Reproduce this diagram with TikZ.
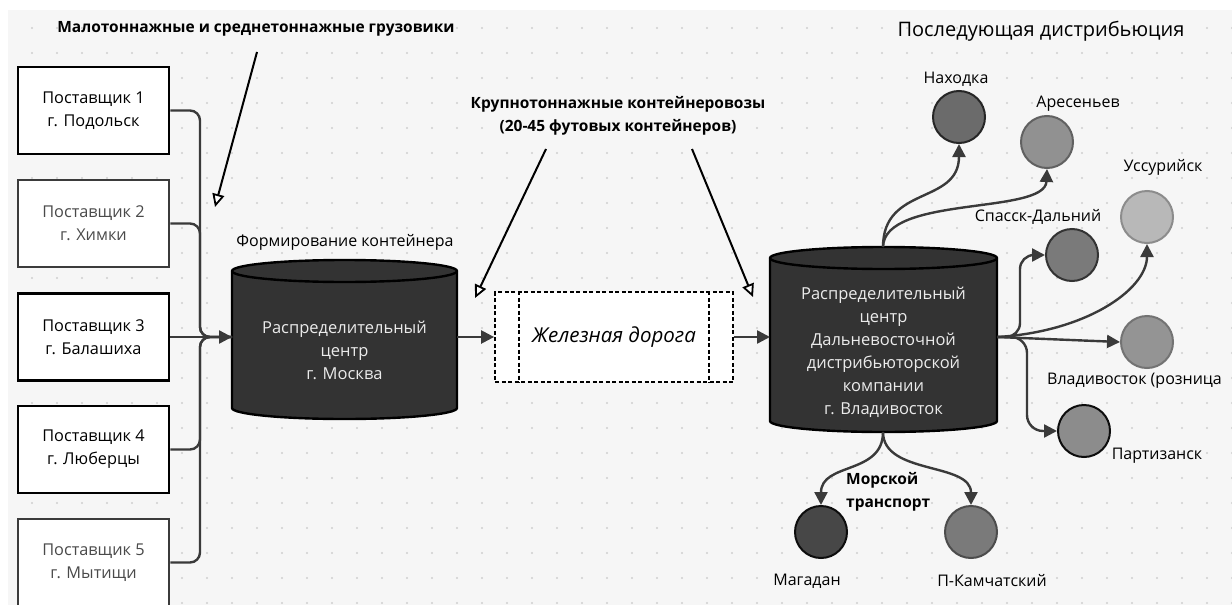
\documentclass[tikz,border=0pt]{standalone}
\usepackage{fontspec}
\setmainfont{Open Sans}
\usetikzlibrary{arrows.meta,calc}
\definecolor{bgc}{HTML}{F6F6F6}
\definecolor{dotc}{HTML}{CFCFCF}
\definecolor{lc}{HTML}{3A3A3A}
\definecolor{cylc}{HTML}{333333}
\definecolor{graytext}{HTML}{4A4A4A}
\begin{document}
\begin{tikzpicture}[x=1pt,y=-1pt,
  conn/.style={draw=lc, line width=2.4pt, -{Triangle[length=13pt,width=13pt]}},
  plainline/.style={draw=lc, line width=2.4pt},
  callout/.style={draw=black, line width=2pt, -{Triangle[length=13pt,width=12pt,fill=white,line width=1.8pt]}},
  supbox/.style={draw=black, line width=2.6pt, fill=white, minimum width=151pt, minimum height=87pt, align=center, font=\fontsize{16.3}{23}\selectfont},
  supboxg/.style={supbox, draw=graytext!80!black, text=graytext},
  cyltext/.style={align=center, text=white!92!black, font=\fontsize{16.5}{23}\selectfont},
  city/.style={circle, minimum size=52pt, inner sep=0pt, line width=2pt},
  lbl/.style={font=\fontsize{16}{20}\selectfont, inner sep=0pt},
  cylshape/.style={fill=cylc, draw=black, line width=2.4pt}
]
\useasboundingbox (0,0) rectangle (1232,605);
\fill[white] (0,0) rectangle (1232,605);
\fill[bgc] (8,10) rectangle (1232,605);
\foreach \x in {32,57,...,1232} {\foreach \y in {28,53,...,605} {\fill[dotc] (\x,\y) circle (1.2pt);}}

% titles
\node[font=\bfseries\fontsize{15.5}{20}\selectfont, inner sep=0pt] (t1) at (256,29) {Малотоннажные и среднетоннажные грузовики};
\node[font=\fontsize{20}{24}\selectfont, inner sep=0pt] (t2) at (1041,31) {Последующая дистрибьюция};
\node[font=\bfseries\fontsize{15.5}{23}\selectfont, align=center, inner sep=0pt] (t3) at (618,116) {Крупнотоннажные контейнеровозы\\(20-45 футовых контейнеров)};
\node[lbl] (t4) at (345,242) {Формирование контейнера};

% suppliers
\node[supbox] (s1) at (93.5,110.5) {Поставщик 1\\г. Подольск};
\node[supboxg] (s2) at (93.5,223.5) {Поставщик 2\\г. Химки};
\node[supbox] (s3) at (93.5,337) {Поставщик 3\\г. Балашиха};
\node[supbox] (s4) at (93.5,449.5) {Поставщик 4\\г. Люберцы};
\node[supboxg] (s5) at (93.5,562.5) {Поставщик 5\\г. Мытищи};

% Moscow cylinder
\path[cylshape] (232,271) -- (232,408) arc[start angle=180,end angle=360,x radius=112.5pt,y radius=11pt] -- (457,271) arc[start angle=0,end angle=180,x radius=112.5pt,y radius=11pt] -- cycle;
\draw[black, line width=2.4pt] (232,271) arc[start angle=180,end angle=360,x radius=112.5pt,y radius=11pt];
\node[cyltext, minimum width=225pt] (m) at (344.5,350) {Распределительный\\центр\\г. Москва};

% Vladivostok cylinder
\path[cylshape] (770,258) -- (770,421) arc[start angle=180,end angle=360,x radius=113.5pt,y radius=11pt] -- (997,258) arc[start angle=0,end angle=180,x radius=113.5pt,y radius=11pt] -- cycle;
\draw[black, line width=2.4pt] (770,258) arc[start angle=180,end angle=360,x radius=113.5pt,y radius=11pt];
\node[cyltext, minimum width=227pt] (v) at (883.5,352) {Распределительный\\центр\\Дальневосточной\\дистрибьюторской\\компании\\г. Владивосток};

% rail
\node[draw=black, dash pattern=on 4pt off 2.5pt, line width=1.8pt, fill=white, minimum width=238pt, minimum height=90pt, font=\itshape\fontsize{20.5}{24}\selectfont] (rail) at (614,337) {Железная дорога};
\draw[black, dash pattern=on 4pt off 2.5pt, line width=1.8pt] ($(rail.north west)+(25,0)$) -- ($(rail.south west)+(25,0)$);
\draw[black, dash pattern=on 4pt off 2.5pt, line width=1.8pt] ($(rail.north east)+(-25,0)$) -- ($(rail.south east)+(-25,0)$);

% junction coordinates
\coordinate (j) at (200,337);
\coordinate (mw) at (232,337);
\coordinate (me) at (457,337);
\coordinate (vw) at (770,337);
\coordinate (vr) at (997,337);
\coordinate (vt) at (883,247);
\coordinate (vb) at (883,432);

% supplier connectors
\draw[plainline, rounded corners=10pt] (s1.east) -| (j) -- (mw);
\draw[plainline, rounded corners=10pt] (s2.east) -| (j) -- (mw);
\draw[plainline, rounded corners=10pt] (s4.east) -| (j) -- (mw);
\draw[plainline, rounded corners=10pt] (s5.east) -| (j) -- (mw);
\draw[conn] (s3.east) -- (mw);

\draw[conn] (me) -- (rail.west);
\draw[conn] (rail.east) -- (vw);

% cities
\node[city, fill=black!58, draw=black!85] (nah) at (959,117) {};
\node[city, fill=black!43, draw=black!62] (ars) at (1047,142) {};
\node[city, fill=black!28, draw=black!45] (us) at (1147,217) {};
\node[city, fill=black!52, draw=black!80] (sp) at (1072,255) {};
\node[city, fill=black!42, draw=black!55] (vl) at (1147,342) {};
\node[city, fill=black!45, draw=black!95] (par) at (1084,431) {};
\node[city, fill=black!72, draw=black!95] (mag) at (821,532) {};
\node[city, fill=black!52, draw=black!70] (kam) at (971,532) {};

\node[lbl] (lnah) at (956,79) {Находка};
\node[lbl] (lars) at (1078,104) {Аресеньев};
\node[lbl] (lus) at (1163,167) {Уссурийск};
\node[lbl] (lsp) at (1038,217) {Спасск-Дальний};
\node[lbl, anchor=west] (lvl) at (1047,381) {Владивосток (розница};
\node[lbl] (lpar) at (1157,456) {Партизанск};
\node[lbl] (lmag) at (807,581) {Магадан};
\node[lbl] (lkam) at (992,581) {П-Камчатский};
\node[font=\bfseries\fontsize{15.5}{23}\selectfont, align=left, anchor=west, inner sep=0pt] (sea) at (846,491.5) {Морской\\транспорт};

% distribution connectors
\draw[conn] (vt) .. controls (883,185) and (959,205) .. (nah.south);
\draw[conn] (vt) .. controls (884,195) and (1045,215) .. (ars.south);
\draw[conn, rounded corners=14pt] (vr) -- (1020,337) -- (1020,255) -- (sp.west);
\draw[conn] (vr) .. controls (1085,332) and (1147,290) .. (us.south);
\draw[conn] (vr) -- (vl.west);
\draw[conn, rounded corners=16pt] (vr) -- (1027,337) -- (1027,431) -- (par.west);
\draw[conn] (vb) .. controls (883,475) and (821,462) .. (mag.north);
\draw[conn] (vb) .. controls (883,475) and (971,462) .. (kam.north);

% callout arrows
\coordinate (c1s) at (257,52);
\coordinate (c1e) at (215,207);
\coordinate (c2s) at (546,149);
\coordinate (c2e) at (475,298);
\coordinate (c3s) at (692,149);
\coordinate (c3e) at (753,297);
\draw[callout] (c1s) -- (c1e);
\draw[callout] (c2s) -- (c2e);
\draw[callout] (c3s) -- (c3e);
\end{tikzpicture}
\end{document}
